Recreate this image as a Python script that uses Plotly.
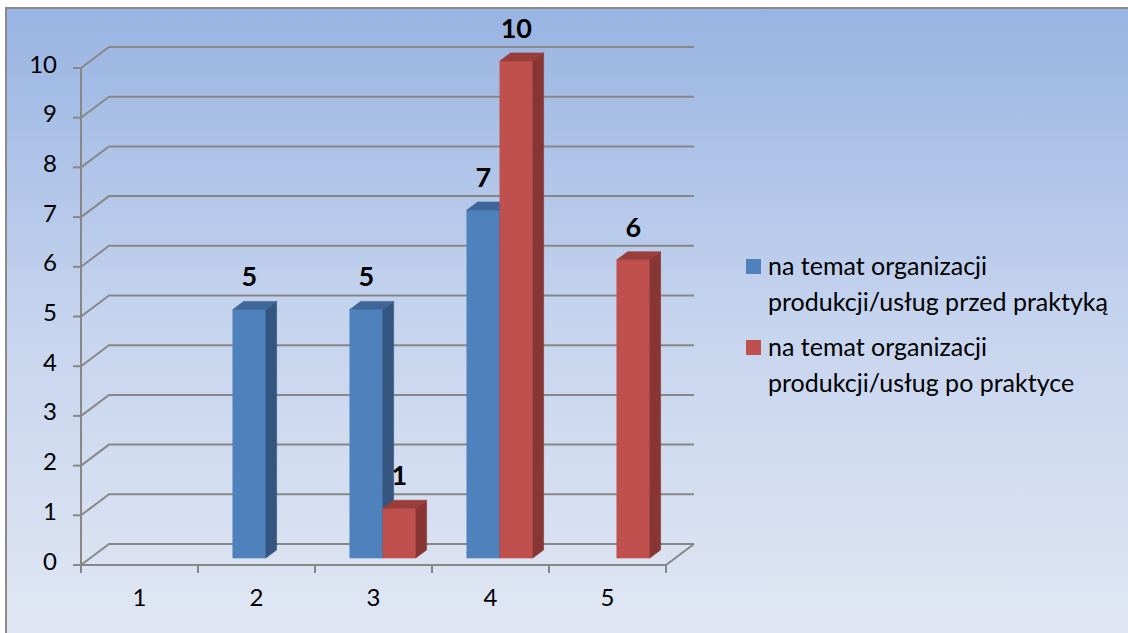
import plotly.graph_objects as go

# ---- data ----
categories = ["1", "2", "3", "4", "5"]
przed = [None, 5, 5, 7, None]    # na temat organizacji produkcji/usług przed praktyką
po = [None, None, 1, 10, 6]      # na temat organizacji produkcji/usług po praktyce
y_ticks = list(range(0, 11))
series_names = [
    "na temat organizacji produkcji/usług przed praktyką",
    "na temat organizacji produkcji/usług po praktyce",
]
legend_lines = [
    ["na temat organizacji", "produkcji/usług przed praktyką"],
    ["na temat organizacji", "produkcji/usług po praktyce"],
]

# ---- geometry of the pseudo-3D frame ----
W_PX, H_PX = 1128, 633
X0_PX, CAT_PX = 81.0, 117.0      # front-left corner of floor, width of one category
Y0_PX, UNIT_PX = 565.0, 49.7     # front floor line, pixels per value unit
DX = 28.0 / CAT_PX               # depth vector (front -> back wall) in data units
DY = 21.0 / UNIT_PX
BAR_W = 33.0 / CAT_PX            # width of one column
BAR_D0 = 1.0 / 3.0               # depth where columns start (fraction of full depth)
BAR_T = 0.385                    # column thickness (fraction of full depth)
VMAX = 10

x_lo = 0.5 - X0_PX / CAT_PX
x_hi = 0.5 + (W_PX - X0_PX) / CAT_PX
y_lo = -(H_PX - Y0_PX) / UNIT_PX
y_hi = Y0_PX / UNIT_PX


def px_x(p):
    return 0.5 + (p - X0_PX) / CAT_PX


def px_y(p):
    return (Y0_PX - p) / UNIT_PX


FONT = "Lato, 'Open Sans', sans-serif"
GRID = "#878787"
BLUE = dict(front="#4F81BD", side="#33557F", top="#3E6698")
RED = dict(front="#C0504D", side="#883634", top="#9A3E3B")

fig = go.Figure()

# chart area background with vertical gradient
bx0, by0, bx1, by1 = px_x(6), px_y(8), px_x(W_PX + 5), px_y(H_PX + 5)
fig.add_trace(go.Scatter(
    x=[bx0, bx1, bx1, bx0, bx0], y=[by0, by0, by1, by1, by0],
    mode="lines", line=dict(width=0), fill="toself",
    fillgradient=dict(type="vertical",
                      colorscale=[[0, "#E1E7F3"], [0.5, "#C6D4EE"], [1, "#98B4E2"]]),
    hoverinfo="skip", showlegend=False))
# frame border (top and left edges)
fig.add_trace(go.Scatter(
    x=[bx1, bx0, bx0], y=[by0, by0, by1], mode="lines",
    line=dict(color="#8A8A8A", width=2), hoverinfo="skip", showlegend=False))

# gridlines: back wall + left wall diagonals, y tick marks
gx, gy = [], []
for v in y_ticks:
    gx += [0.5, 0.5 + DX, 5.5 + DX, None]
    gy += [v, v + DY, v + DY, None]
    gx += [0.5 - 8 / CAT_PX, 0.5, None]
    gy += [v, v, None]
# front value axis
gx += [0.5, 0.5, None]
gy += [0, VMAX, None]
# floor front edge and right diagonal
gx += [0.5, 5.5, 5.5 + DX, None]
gy += [0, 0, DY, None]
# category boundary ticks
for i in range(len(categories) + 1):
    gx += [0.5 + i, 0.5 + i, None]
    gy += [0, -8 / UNIT_PX, None]
fig.add_trace(go.Scatter(x=gx, y=gy, mode="lines",
                         line=dict(color=GRID, width=2),
                         hoverinfo="skip", showlegend=False))

# columns: front, side and top faces
ox0, oy0 = BAR_D0 * DX, BAR_D0 * DY
tx, ty = BAR_T * DX, BAR_T * DY


def column(x_left, v, colors, name):
    xl, xr = x_left + ox0, x_left + ox0 + BAR_W
    yb, yt = oy0, oy0 + v
    faces = [
        ([xl, xr, xr, xl, xl], [yb, yb, yt, yt, yb], colors["front"]),
        ([xr, xr + tx, xr + tx, xr, xr], [yb, yb + ty, yt + ty, yt, yb], colors["side"]),
        ([xl, xr, xr + tx, xl + tx, xl], [yt, yt, yt + ty, yt + ty, yt], colors["top"]),
    ]
    for fx, fy, c in faces:
        fig.add_trace(go.Scatter(
            x=fx, y=fy, mode="lines", fill="toself", fillcolor=c,
            line=dict(width=0.6, color=c), name=name,
            hoverinfo="skip", showlegend=False))


lab_x, lab_y, lab_t = [], [], []
for i, cat in enumerate(categories):
    c = i + 1
    for vals, cols, name, left in ((przed, BLUE, series_names[0], c - BAR_W),
                                   (po, RED, series_names[1], c)):
        v = vals[i]
        if v is None:
            continue
        column(left, v, cols, name)
        lab_x.append(left + ox0 + BAR_W / 2)
        lab_y.append(oy0 + v + 0.6)
        lab_t.append(str(v))

# value labels above columns
fig.add_trace(go.Scatter(
    x=lab_x, y=lab_y, text=lab_t, mode="text", textposition="middle center",
    textfont=dict(family=FONT, size=27, color="#000000", weight="bold"),
    hoverinfo="skip", showlegend=False))

# y tick labels
fig.add_trace(go.Scatter(
    x=[px_x(57)] * len(y_ticks), y=[v + 0.03 for v in y_ticks],
    text=[str(v) for v in y_ticks], mode="text", textposition="middle left",
    textfont=dict(family=FONT, size=24, color="#000000"),
    hoverinfo="skip", showlegend=False, cliponaxis=False))

# category labels
fig.add_trace(go.Scatter(
    x=[i + 1 for i in range(len(categories))], y=[px_y(600)] * len(categories),
    text=categories, mode="text", textposition="middle center",
    textfont=dict(family=FONT, size=24, color="#000000"),
    hoverinfo="skip", showlegend=False))

# legend: color keys and two-line entries
fig.add_trace(go.Scatter(
    x=[px_x(753.5), px_x(753.5)], y=[px_y(266.5), px_y(347.5)],
    mode="markers", marker=dict(symbol="square", size=15,
                                color=[BLUE["front"], RED["front"]], line=dict(width=0)),
    hoverinfo="skip", showlegend=False))
line_y = [[265, 301], [346, 382]]
for lines, ys in zip(legend_lines, line_y):
    for txt, yy in zip(lines, ys):
        fig.add_annotation(x=px_x(766), y=px_y(yy), text=txt, showarrow=False,
                           xanchor="left", yanchor="middle",
                           font=dict(family=FONT, size=25, color="#000000"))

fig.update_layout(
    width=W_PX, height=H_PX,
    margin=dict(l=0, r=0, t=0, b=0),
    paper_bgcolor="#FFFFFF", plot_bgcolor="rgba(0,0,0,0)",
    xaxis=dict(range=[x_lo, x_hi], visible=False, fixedrange=True),
    yaxis=dict(range=[y_lo, y_hi], visible=False, fixedrange=True),
    showlegend=False,
)

fig.write_html("out.html")
